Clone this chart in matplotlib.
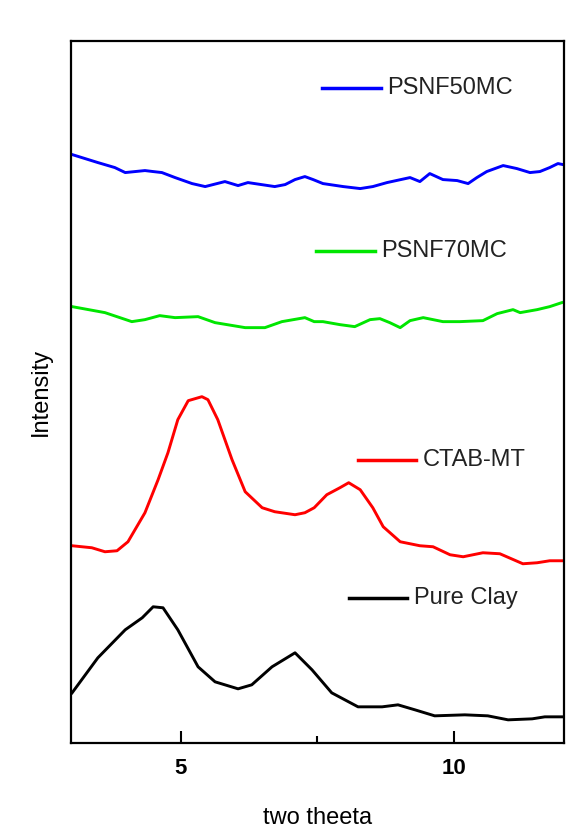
import matplotlib
matplotlib.use("Agg")
import matplotlib.pyplot as plt
from matplotlib.ticker import MultipleLocator

plt.rcParams['font.family'] = ['Liberation Sans', 'DejaVu Sans']

# Pure Clay (black)
clay_x = [3.02,3.49,3.99,4.30,4.50,4.68,4.95,5.32,5.63,6.05,6.30,6.67,7.09,7.40,7.76,8.24,8.68,8.97,9.28,9.64,10.19,10.61,10.98,11.42,11.65,12.0]
clay_y = [50,85,113,125,136,135,113,76,61,54,58,76,90,73,50,36,36,38,33,27,28,27,23,24,26,26]

# CTAB-MT (red)
ctab_x = [3.02,3.38,3.62,3.84,4.04,4.35,4.59,4.77,4.95,5.14,5.39,5.50,5.68,5.94,6.18,6.49,6.72,7.09,7.27,7.44,7.67,7.91,8.07,8.28,8.51,8.70,9.01,9.37,9.61,9.92,10.16,10.52,10.83,11.25,11.51,11.74,11.98]
ctab_y = [197,195,191,192,201,230,263,290,323,342,346,343,323,283,251,235,231,228,230,235,248,255,260,253,235,216,201,197,196,188,186,190,189,179,180,182,182]

# PSNF70MC (green)
p70_x = [3.02,3.62,4.11,4.35,4.62,4.90,5.32,5.63,6.18,6.54,6.85,7.27,7.44,7.60,7.91,8.18,8.46,8.64,8.82,9.01,9.19,9.43,9.79,10.10,10.52,10.78,11.07,11.20,11.51,11.74,11.96]
p70_y = [436,430,421,423,427,425,426,420,415,415,421,425,421,421,418,416,423,424,420,415,422,425,421,421,422,429,433,430,433,436,440]

# PSNF50MC (blue)
p50_x = [3.02,3.49,3.80,3.99,4.35,4.50,4.66,4.90,5.21,5.45,5.81,6.05,6.23,6.72,6.91,7.09,7.27,7.42,7.60,7.97,8.28,8.51,8.77,9.19,9.37,9.55,9.79,10.05,10.25,10.41,10.59,10.89,11.14,11.38,11.56,11.74,11.89,11.98]
p50_y = [588,580,575,570,572,571,570,565,559,556,561,557,560,556,558,563,566,563,559,556,554,556,560,565,561,569,563,562,559,565,571,577,574,570,571,575,579,578]

series = [
    ("PSNF50MC", p50_x, p50_y, "#0000ff"),
    ("PSNF70MC", p70_x, p70_y, "#00e600"),
    ("CTAB-MT", ctab_x, ctab_y, "#ff0000"),
    ("Pure Clay", clay_x, clay_y, "#000000"),
]

fig = plt.figure(figsize=(5.82, 8.30), dpi=100)
ax = fig.add_axes([0.122, 0.105, 0.847, 0.845])

for name, xs, ys, c in series:
    ax.plot(xs, ys, color=c, lw=2.1)

# label keys (axes fraction positions)
keys = [
    ("PSNF50MC", "#0000ff", 0.510, 0.628, 0.934),
    ("PSNF70MC", "#00e600", 0.498, 0.616, 0.701),
    ("CTAB-MT", "#ff0000", 0.582, 0.700, 0.404),
    ("Pure Clay", "#000000", 0.564, 0.682, 0.207),
]
for name, c, x0, x1, y in keys:
    ax.plot([x0, x1], [y, y], color=c, lw=2.5, transform=ax.transAxes)
    ax.text(x1 + 0.014, y, name, transform=ax.transAxes, fontsize=17,
            va='center', ha='left', color='#222222')

ax.set_xlim(3, 12)
ax.set_ylim(0, 701)
ax.xaxis.set_major_locator(MultipleLocator(5))
ax.xaxis.set_minor_locator(MultipleLocator(2.5))
ax.tick_params(axis='x', which='major', direction='in', length=9, width=1.5,
               labelsize=16, pad=11)
ax.tick_params(axis='x', which='minor', direction='in', length=5, width=1.5)
for lbl in ax.get_xticklabels():
    lbl.set_fontweight('bold')
ax.set_yticks([])
for s in ax.spines.values():
    s.set_linewidth(1.6)

ax.set_xlabel("two theeta", fontsize=17, labelpad=20)
ax.set_ylabel("Intensity", fontsize=17, labelpad=14)

fig.savefig("out.png", dpi=100)
